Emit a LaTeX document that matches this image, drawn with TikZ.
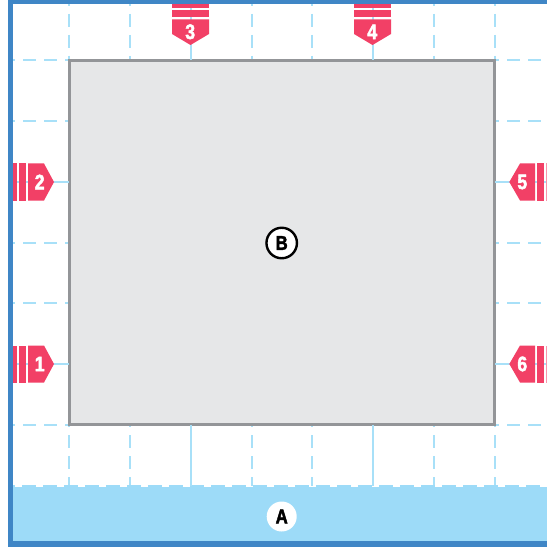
\documentclass[tikz,border=0pt]{standalone}
\usepackage{fontspec}
\setmainfont{Liberation Sans}
\newfontfamily\tagfont[FakeStretch=0.84,FakeBold=2.2]{Liberation Sans Bold}
\definecolor{frameblue}{HTML}{3F86C6}
\definecolor{water}{HTML}{9DDBF8}
\definecolor{grid}{HTML}{A8E0F8}
\definecolor{boxgray}{HTML}{E6E7E8}
\definecolor{boxline}{HTML}{939598}
\definecolor{tagred}{HTML}{F24066}
\tikzset{
  gridline/.style={draw=grid,line width=1.6pt,dash pattern=on 13pt off 8pt},
  solidline/.style={draw=grid,line width=1.6pt},
  num/.style={text=white,font=\tagfont\fontsize{21}{21}\selectfont,inner sep=0pt},
  badge/.style={circle,minimum size=30pt,inner sep=0pt,font=\tagfont\fontsize{20}{20}\selectfont},
}
\begin{document}
\begin{tikzpicture}[x=1pt,y=-1pt]
\useasboundingbox (0,0) rectangle (547,548);
\fill[white] (0,0) rectangle (547,548);
\fill[water] (13,486.5) rectangle (547,541);
% grid
\foreach \x in {69,130,252,312,434,495}{
  \draw[gridline,dash phase=11pt] (\x,4) -- (\x,60);
  \draw[gridline,dash phase=11pt] (\x,425) -- (\x,486);
}
\foreach \y in {60,121,243,303,425}{
  \draw[gridline,dash phase=11pt] (13,\y) -- (69,\y);
  \draw[gridline,dash phase=9pt] (495,\y) -- (547,\y);
}
\draw[draw=water,line width=1.6pt,dash pattern=on 14pt off 7pt,dash phase=12pt] (13,486) -- (547,486);
% frame
\fill[frameblue] (8,0) rectangle (13,548);
\fill[frameblue] (8,0) rectangle (547,4.5);
\fill[frameblue] (8,541) rectangle (547,546.7);
\fill[white] (0,546.7) rectangle (547,548);
% main box
\node[draw=boxline,fill=boxgray,line width=3pt,minimum width=425.5pt,minimum height=364.5pt,inner sep=0pt,outer sep=0pt,anchor=north west] (B) at (69.2,60.2) {};
\node[badge,minimum size=30.5pt,draw=black,line width=2.4pt,fill=white] (labelB) at (281.7,243) {B};
\node[badge,fill=white] (labelA) at (281.7,516.5) {A};
% anchors for connectors
\coordinate (t3) at (191,4); \coordinate (t4) at (373,4);
\coordinate (b3) at (191,486); \coordinate (b4) at (373,486);
\coordinate (l2) at (13,182); \coordinate (l1) at (13,364);
\coordinate (r5) at (547,182); \coordinate (r6) at (547,364);
\coordinate (c3) at (191,60); \coordinate (c4) at (373,60);
\coordinate (d3) at (191,425); \coordinate (d4) at (373,425);
\coordinate (e2) at (69,182); \coordinate (e1) at (69,364);
\coordinate (f5) at (495,182); \coordinate (f6) at (495,364);
\draw[solidline] (t3)--(c3); \draw[solidline] (t4)--(c4);
\draw[solidline] (d3)--(b3); \draw[solidline] (d4)--(b4);
\draw[solidline] (l2)--(e2); \draw[solidline] (l1)--(e1);
\draw[solidline] (r5)--(f5); \draw[solidline] (r6)--(f6);
% top tags
\foreach \x/\n in {190.5/3,372.5/4}{
  \fill[tagred] (\x-18.5,4.5) rectangle (\x+18.5,8);
  \fill[tagred] (\x-18.5,10) rectangle (\x+18.5,17.4);
  \fill[tagred] (\x-18.5,19.4) -- (\x+18.5,19.4) -- (\x+18.5,34) -- (\x,45) -- (\x-18.5,34) -- cycle;
  \node[num] (tag\n) at (\x-0.3,31.8) {\n};
}
% left tags
\foreach \y/\n in {182/2,364/1}{
  \fill[tagred] (13,\y-18.5) rectangle (16.8,\y+18.5);
  \fill[tagred] (18.5,\y-18.5) rectangle (26,\y+18.5);
  \fill[tagred] (28,\y-18.5) -- (44,\y-18.5) -- (54,\y) -- (44,\y+18.5) -- (28,\y+18.5) -- cycle;
  \node[num] (tag\n) at (39.7,\y) {\n};
}
% right tags
\foreach \y/\n in {182/5,364/6}{
  \fill[tagred] (535,\y-18.5) -- (520,\y-18.5) -- (509.3,\y) -- (520,\y+18.5) -- (535,\y+18.5) -- cycle;
  \fill[tagred] (537,\y-18.5) rectangle (544,\y+18.5);
  \fill[tagred!55] (546,\y-18.5) rectangle (547,\y+18.5);
  \node[num] (tag\n) at (522.3,\y) {\n};
}
\end{tikzpicture}
\end{document}
